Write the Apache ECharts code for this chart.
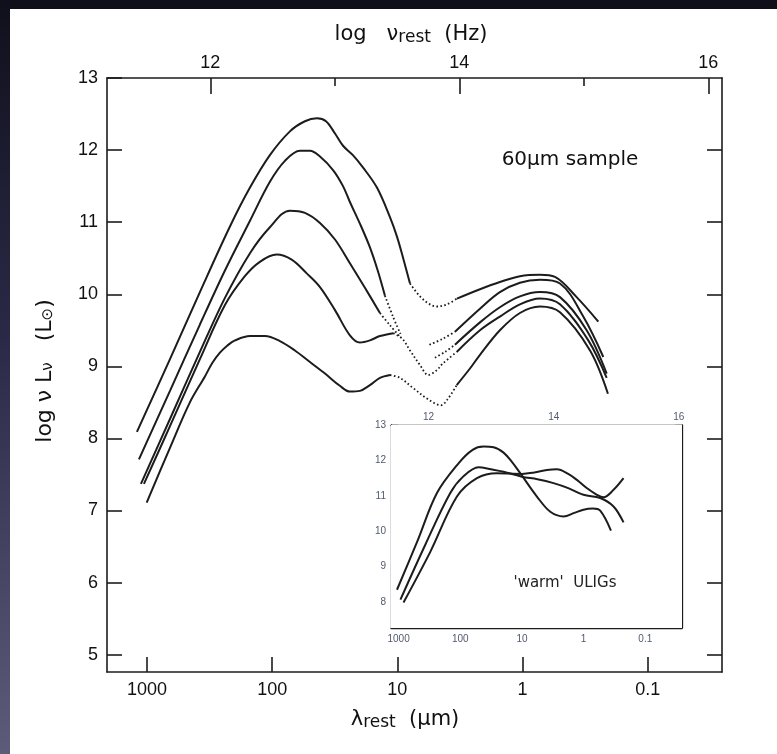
<!DOCTYPE html>
<html><head><meta charset="utf-8">
<script src="https://cdn.jsdelivr.net/npm/echarts@6/dist/echarts.min.js"></script>
<style>
html,body{margin:0;padding:0;background:#0f0f1a;}
#strip{position:absolute;left:0;top:0;width:10px;height:754px;background:linear-gradient(#10101c,#2a2a48 45%,#5c5c7a);}
#paper{position:absolute;left:10px;top:9px;width:767px;height:745px;background:#fff;}
#chart{position:absolute;left:0;top:0;width:777px;height:754px;}
</style></head>
<body>
<div id="strip"></div><div id="paper"></div><div id="chart"></div>
<script>
// x values: log10(lambda_rest / micron); y values: log nuL_nu (Lsun)
const mainXTicks = [3, 2, 1, 0, -1];
const mainYTicks = [5, 6, 7, 8, 9, 10, 11, 12, 13];
const nuMajor = [12, 14, 16];
const nuMinor = [13, 15];
const insetYTicks = [8, 9, 10, 11, 12, 13];

const A_solid1 = [[3.080,8.09],[2.816,9.10],[2.577,10.03],[2.337,10.94],[2.177,11.48],[2.018,11.93],[1.858,12.26],[1.738,12.40],[1.642,12.44],[1.570,12.40],[1.498,12.23],[1.434,12.06],[1.355,11.93],[1.275,11.76],[1.163,11.48],[1.059,11.07],[1.003,10.80],[0.955,10.51],[0.899,10.15]];
const A_dot = [[0.899,10.15],[0.819,9.97],[0.740,9.86],[0.685,9.83],[0.604,9.86],[0.524,9.94]];
const A_solid2 = [[0.524,9.94],[0.340,10.07],[0.181,10.17],[0.021,10.25],[-0.139,10.27],[-0.259,10.24],[-0.432,9.96],[-0.605,9.62]];

const B_solid1 = [[3.064,7.71],[2.816,8.66],[2.577,9.58],[2.377,10.33],[2.177,11.02],[2.018,11.56],[1.898,11.85],[1.778,11.99],[1.698,11.99],[1.618,11.91],[1.512,11.72],[1.434,11.50],[1.379,11.28],[1.299,10.98],[1.219,10.65],[1.155,10.32],[1.099,9.98]];
const B_dot1 = [[1.099,9.98],[1.035,9.69],[0.975,9.45]];
const B_dot2 = [[0.744,9.30],[0.640,9.38],[0.540,9.48]];
const B_solid2 = [[0.540,9.48],[0.340,9.80],[0.181,10.03],[0.021,10.16],[-0.139,10.20],[-0.299,10.15],[-0.485,9.69],[-0.645,9.13]];

const C_solid1 = [[3.048,7.37],[2.816,8.27],[2.577,9.20],[2.377,9.95],[2.177,10.57],[2.018,10.93],[1.858,11.16],[1.738,11.13],[1.618,10.99],[1.498,10.76],[1.379,10.43],[1.259,10.09],[1.139,9.74]];
const C_dot1 = [[1.139,9.74],[1.059,9.57],[0.979,9.41]];
const C_dot2 = [[0.700,9.12],[0.620,9.20],[0.540,9.30]];
const C_solid2 = [[0.540,9.30],[0.340,9.61],[0.181,9.82],[0.021,9.97],[-0.139,10.03],[-0.299,9.96],[-0.512,9.50],[-0.672,8.90]];

const D_solid1 = [[3.024,7.37],[2.816,8.17],[2.577,9.10],[2.377,9.85],[2.218,10.25],[2.098,10.45],[1.964,10.55],[1.844,10.48],[1.724,10.29],[1.618,10.10],[1.498,9.78],[1.379,9.43],[1.299,9.33],[1.219,9.36],[1.139,9.42],[1.033,9.46]];
const D_dot = [[1.033,9.46],[0.959,9.38],[0.899,9.22],[0.820,9.02],[0.753,8.88],[0.690,8.94],[0.636,9.04],[0.526,9.20]];
const D_solid2 = [[0.526,9.20],[0.340,9.50],[0.181,9.69],[0.021,9.86],[-0.139,9.94],[-0.299,9.86],[-0.525,9.36],[-0.672,8.84]];

const E_solid1 = [[3.002,7.11],[2.816,7.87],[2.657,8.50],[2.537,8.86],[2.477,9.05],[2.417,9.19],[2.357,9.29],[2.297,9.36],[2.177,9.42],[2.058,9.42],[1.938,9.35],[1.818,9.22],[1.698,9.06],[1.578,8.90],[1.459,8.73],[1.379,8.65],[1.299,8.66],[1.219,8.74],[1.139,8.84],[1.059,8.88]];
const E_dot = [[1.059,8.88],[0.979,8.84],[0.875,8.70],[0.760,8.55],[0.652,8.46],[0.600,8.54],[0.526,8.74]];
const E_solid2 = [[0.526,8.74],[0.420,8.97],[0.340,9.16],[0.181,9.50],[0.021,9.74],[-0.139,9.83],[-0.299,9.75],[-0.539,9.22],[-0.682,8.62]];

const I1 = [[3.026,8.35],[2.700,9.70],[2.378,11.08],[2.028,11.92],[1.800,12.30],[1.622,12.39],[1.460,12.37],[1.298,12.22],[1.160,11.95],[1.028,11.64],[0.757,10.98],[0.540,10.55],[0.326,10.42],[0.150,10.52],[0.002,10.61],[-0.150,10.64],[-0.269,10.58],[-0.443,10.02]];
const I2 = [[2.970,8.07],[2.567,9.62],[2.162,11.08],[1.950,11.55],[1.703,11.81],[1.500,11.75],[1.298,11.68],[1.000,11.54],[0.750,11.47],[0.488,11.36],[0.250,11.22],[0.002,11.03],[-0.269,10.94],[-0.485,10.70],[-0.647,10.25]];
const I3 = [[2.920,7.99],[2.486,9.42],[2.054,10.98],[1.729,11.50],[1.405,11.64],[1.000,11.62],[0.800,11.66],[0.595,11.73],[0.433,11.75],[0.250,11.62],[0.109,11.45],[-0.050,11.22],[-0.216,11.03],[-0.323,10.96],[-0.485,11.17],[-0.647,11.50]];

const INK = '#1c1c1c';
const FONT = 'Liberation Sans, Arial, Helvetica, sans-serif';
const TFONT = 'DejaVu Sans, Liberation Sans, sans-serif';
function lamLabel(v){ const r = Math.round(v); return r >= 0 ? String(Math.pow(10, r)) : String(Math.pow(10, r).toFixed(-r)); }

function seg(data, xi, yi, dotted){
  return { type:'line', xAxisIndex:xi, yAxisIndex:yi, data:data, showSymbol:false, smooth:0.35,
    silent:true, animation:false,
    lineStyle:{ color:INK, width: dotted ? 1.8 : 2, type: dotted ? [1.6, 2.4] : 'solid', cap:'butt' } };
}
const mainSeries = [
  [A_solid1,0],[A_dot,1],[A_solid2,0],
  [B_solid1,0],[B_dot1,1],[B_dot2,1],[B_solid2,0],
  [C_solid1,0],[C_dot1,1],[C_dot2,1],[C_solid2,0],
  [D_solid1,0],[D_dot,1],[D_solid2,0],
  [E_solid1,0],[E_dot,1],[E_solid2,0]
].map(p => seg(p[0], 0, 0, p[1] === 1));
const insetSeries = [I1, I2, I3].map(d => { const s = seg(d, 3, 2, false); s.lineStyle.width = 2; return s; });

const LW = 1.6;
function line(w){ return { show:true, onZero:false, lineStyle:{ color:INK, width:w } }; }
const chart = echarts.init(document.getElementById('chart'), null, { renderer:'canvas' });
chart.setOption({
  backgroundColor:'transparent',
  animation:false,
  grid:[
    { left:107, top:78, width:615, height:594, show:false },
    { left:391, top:425, width:291, height:203, show:true, backgroundColor:'#fff', borderWidth:0, z:3 }
  ],
  xAxis:[
    { type:'value', gridIndex:0, position:'bottom', inverse:true, min:-1.593, max:3.319,
      axisLine:line(LW), splitLine:{show:false},
      axisTick:{ show:true, inside:true, length:15, customValues:mainXTicks, lineStyle:{color:INK,width:LW} },
      axisLabel:{ show:true, customValues:mainXTicks, formatter:lamLabel, margin:9, color:'#111', fontSize:18, fontFamily:FONT } },
    { type:'value', gridIndex:0, position:'top', min:11.17, max:16.11,
      axisLine:line(LW), splitLine:{show:false},
      axisTick:{ show:true, inside:true, length:16, customValues:nuMajor, lineStyle:{color:INK,width:LW} },
      axisLabel:{ show:true, customValues:nuMajor, margin:6, color:'#111', fontSize:18, fontFamily:FONT } },
    { type:'value', gridIndex:0, position:'top', min:11.17, max:16.11,
      axisLine:{show:false, onZero:false}, splitLine:{show:false},
      axisTick:{ show:true, inside:true, length:8, customValues:nuMinor, lineStyle:{color:INK,width:LW} },
      axisLabel:{ show:false } },
    { type:'value', gridIndex:1, position:'bottom', inverse:true, min:-1.595, max:3.123,
      axisLine:line(1.3), splitLine:{show:false},
      axisTick:{ show:true, inside:true, length:7, customValues:mainXTicks, lineStyle:{color:INK,width:1.3} },
      axisLabel:{ show:true, customValues:mainXTicks, formatter:lamLabel, margin:6, color:'#505a6e', fontSize:10, fontFamily:FONT } },
    { type:'value', gridIndex:1, position:'top', min:11.40, max:16.05,
      axisLine:line(1.3), splitLine:{show:false},
      axisTick:{ show:true, inside:true, length:7, customValues:nuMajor, lineStyle:{color:INK,width:1.3} },
      axisLabel:{ show:true, customValues:nuMajor, margin:3, color:'#505a6e', fontSize:10, fontFamily:FONT } }
  ],
  yAxis:[
    { type:'value', gridIndex:0, position:'left', min:4.76, max:13,
      axisLine:line(LW), splitLine:{show:false},
      axisTick:{ show:true, inside:true, length:15, customValues:mainYTicks, lineStyle:{color:INK,width:LW} },
      axisLabel:{ show:true, customValues:mainYTicks, margin:9, color:'#111', fontSize:18, fontFamily:FONT } },
    { type:'value', gridIndex:0, position:'right', min:4.76, max:13,
      axisLine:line(LW), splitLine:{show:false},
      axisTick:{ show:true, inside:true, length:15, customValues:mainYTicks.slice(0,8), lineStyle:{color:INK,width:LW} },
      axisLabel:{ show:false } },
    { type:'value', gridIndex:1, position:'left', min:7.27, max:13,
      axisLine:line(1.3), splitLine:{show:false},
      axisTick:{ show:true, inside:true, length:7, customValues:insetYTicks, lineStyle:{color:INK,width:1.3} },
      axisLabel:{ show:true, customValues:insetYTicks, margin:5, color:'#505a6e', fontSize:10, fontFamily:FONT } },
    { type:'value', gridIndex:1, position:'right', min:7.27, max:13,
      axisLine:line(1.3), splitLine:{show:false},
      axisTick:{ show:true, inside:true, length:7, customValues:insetYTicks, lineStyle:{color:INK,width:1.3} },
      axisLabel:{ show:false } }
  ],
  graphic:[
    { type:'text', x:411, y:35, style:{ text:'{a|log   ν}{b|rest}{a|  (Hz)}', align:'center', verticalAlign:'middle',
      rich:{ a:{ fontSize:21, fontFamily:TFONT, fill:'#111', lineHeight:24 }, b:{ fontSize:17, fontFamily:TFONT, fill:'#111', lineHeight:24, padding:[5,0,0,0] } } } },
    { type:'text', x:405, y:720, style:{ text:'{a|λ}{b|rest}{a|  (μm)}', align:'center', verticalAlign:'middle',
      rich:{ a:{ fontSize:21, fontFamily:TFONT, fill:'#111', lineHeight:24 }, b:{ fontSize:17, fontFamily:TFONT, fill:'#111', lineHeight:24, padding:[6,0,0,0] } } } },
    { type:'text', x:45, y:371, rotation:Math.PI/2, style:{ text:'{a|log ν L}{b|ν}{a|   (L}{b|⊙}{a|)}', align:'center', verticalAlign:'middle',
      rich:{ a:{ fontSize:22, fontFamily:TFONT, fill:'#111', lineHeight:26 }, b:{ fontSize:15, fontFamily:TFONT, fill:'#111', lineHeight:26, padding:[7,0,0,0] } } } },
    { type:'text', x:570, y:160, style:{ text:'60μm sample', align:'center', verticalAlign:'middle', fontSize:20, fontFamily:TFONT, fill:'#111' } },
    { type:'text', x:565, y:583, z:10, style:{ text:"'warm'  ULIGs", align:'center', verticalAlign:'middle', fontSize:15, fontFamily:TFONT, fill:'#222' } }
  ],
  series: mainSeries.concat(insetSeries)
});
</script>
</body></html>
